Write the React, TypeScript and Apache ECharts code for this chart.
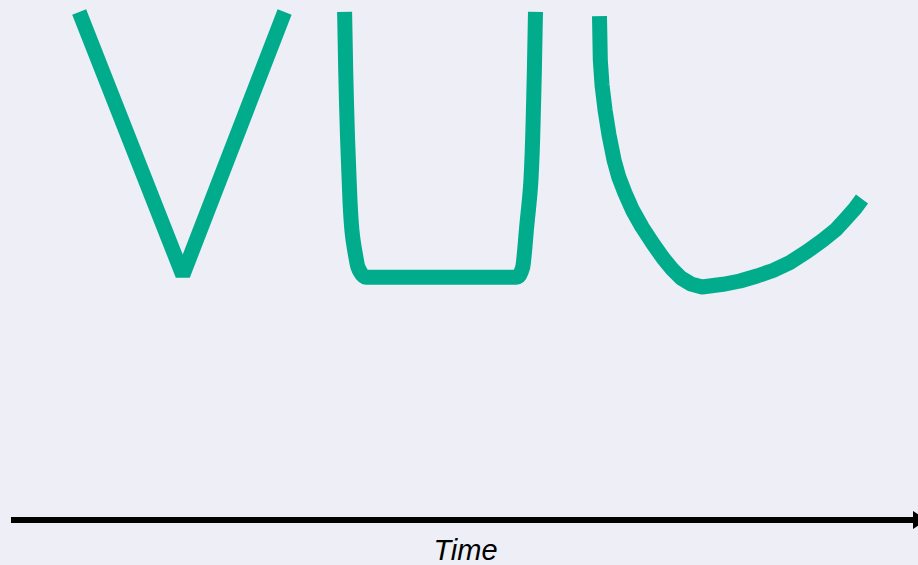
import React, { useEffect, useRef } from "react";
import * as echarts from "echarts";

// Recession shapes (x: time units 0-100, y: output level 0-100)
const vShapeX = [7.5, 18.9, 30.1];
const vShapeY = [97.7, 47.1, 97.7];

const uShapeX = [36.7, 36.9, 37.2, 37.5, 38.0, 38.3, 39.1, 55.6, 56.2, 56.4, 56.7, 57.2, 57.5, 57.7];
const uShapeY = [97.7, 80.8, 65.4, 55.8, 50.0, 48.1, 46.7, 46.7, 48.1, 50.0, 55.8, 65.4, 80.8, 97.7];

const lShapeX = [
  64.74, 64.83, 65.02, 65.35, 65.79, 66.34, 66.86, 67.54, 68.37, 69.42, 70.57, 71.73, 72.72,
  73.71, 74.81, 76.02, 78.33, 80.2, 82.07, 83.83, 85.7, 87.57, 89.33, 90.76, 91.97, 92.85, 93.62,
];
const lShapeY = [
  96.92, 88.46, 83.65, 78.85, 74.04, 69.23, 65.96, 62.88, 59.62, 56.35, 53.27, 50.38, 48.27,
  46.54, 45.38, 44.81, 45.33, 45.96, 46.92, 47.98, 49.52, 51.63, 53.85, 55.87, 58.17, 59.9, 61.73,
];

const axisName = "Time";

const GREEN = "#00AC8C";

function pairs(xs: number[], ys: number[]) {
  return xs.map((x, i) => [x, ys[i]]);
}

export default function App() {
  const ref = useRef<HTMLDivElement>(null);

  useEffect(() => {
    if (!ref.current) return;
    const chart = echarts.init(ref.current, undefined, { renderer: "svg" });
    const lineSeries = (
      name: string,
      data: number[][],
      smooth: number | boolean,
      join: string
    ) => ({
      name,
      type: "line",
      data,
      showSymbol: false,
      symbol: "none",
      smooth,
      lineStyle: { color: GREEN, width: 15, cap: "butt", join },
      silent: true,
    });
    chart.setOption({
      animation: false,
      backgroundColor: "#EDEEF6",
      grid: {
        left: 11,
        right: -2,
        top: 0,
        bottom: 45,
        containLabel: false,
        outerBoundsMode: "none",
      },
      xAxis: {
        type: "value",
        min: 0,
        max: 100,
        name: axisName,
        nameLocation: "middle",
        nameGap: 15,
        nameTextStyle: {
          fontFamily: "Liberation Sans, Arial, sans-serif",
          fontStyle: "italic",
          fontSize: 29,
          color: "#000",
        },
        axisLine: {
          show: true,
          onZero: false,
          symbol: ["none", "triangle"],
          symbolSize: [18, 14],
          lineStyle: { color: "#000", width: 6, cap: "butt" },
        },
        axisTick: { show: false },
        axisLabel: { show: false },
        splitLine: { show: false },
      },
      yAxis: {
        type: "value",
        min: 0,
        max: 100,
        show: false,
        splitLine: { show: false },
      },
      series: [
        lineSeries("V", pairs(vShapeX, vShapeY), false, "bevel"),
        lineSeries("U", pairs(uShapeX, uShapeY), 0.4, "round"),
        lineSeries("L", pairs(lShapeX, lShapeY), false, "round"),
      ],
    });
    return () => chart.dispose();
  }, []);

  return (
    <div
      ref={ref}
      style={{ position: "fixed", left: 0, top: 0, width: 918, height: 565 }}
    />
  );
}
